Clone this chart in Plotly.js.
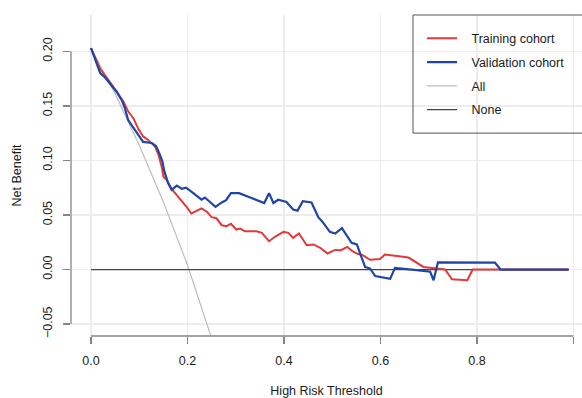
<!DOCTYPE html>
<html>
<head>
<meta charset="utf-8">
<script src="https://cdn.plot.ly/plotly-3.0.1.min.js"></script>
<style>html,body{margin:0;padding:0;overflow:hidden;background:#fff;}</style>
</head>
<body>
<div id="chart" style="width:582px;height:398px;"></div>
<script>
// ---- data ----
const seriesNames = ["Training cohort", "Validation cohort", "All", "None"];

const thresholdsTraining = [0, 0.019, 0.039, 0.057, 0.067, 0.077, 0.088, 0.098, 0.108, 0.119, 0.133, 0.140, 0.147, 0.150, 0.157, 0.167, 0.178, 0.188, 0.198, 0.208, 0.219, 0.229, 0.240, 0.250, 0.260, 0.271, 0.281, 0.290, 0.301, 0.309, 0.319, 0.343, 0.354, 0.369, 0.381, 0.399, 0.409, 0.419, 0.431, 0.447, 0.461, 0.475, 0.490, 0.506, 0.518, 0.531, 0.542, 0.551, 0.564, 0.578, 0.599, 0.609, 0.634, 0.658, 0.689, 0.716, 0.734, 0.748, 0.780, 0.791, 0.99];
const netBenefitTraining = [0.203, 0.184, 0.172, 0.161, 0.154, 0.145, 0.1385, 0.129, 0.122, 0.1186, 0.1125, 0.105, 0.093, 0.085, 0.082, 0.074, 0.068, 0.0636, 0.0575, 0.0514, 0.0538, 0.056, 0.053, 0.048, 0.047, 0.0406, 0.0397, 0.042, 0.0367, 0.0376, 0.035, 0.035, 0.0336, 0.026, 0.030, 0.0345, 0.0336, 0.029, 0.033, 0.0223, 0.023, 0.020, 0.0147, 0.018, 0.0177, 0.0207, 0.0168, 0.0147, 0.013, 0.009, 0.0097, 0.0138, 0.0125, 0.011, 0.0024, 0.0009, 0, -0.0089, -0.0098, 0, 0];

const thresholdsValidation = [0, 0.019, 0.029, 0.043, 0.053, 0.064, 0.070, 0.077, 0.088, 0.098, 0.108, 0.126, 0.135, 0.142, 0.148, 0.152, 0.160, 0.167, 0.178, 0.188, 0.197, 0.212, 0.229, 0.236, 0.247, 0.258, 0.271, 0.280, 0.290, 0.307, 0.330, 0.359, 0.369, 0.378, 0.388, 0.405, 0.419, 0.428, 0.439, 0.457, 0.471, 0.481, 0.495, 0.506, 0.520, 0.540, 0.551, 0.557, 0.568, 0.578, 0.589, 0.620, 0.630, 0.675, 0.703, 0.710, 0.719, 0.837, 0.849, 0.99];
const netBenefitValidation = [0.203, 0.180, 0.176, 0.169, 0.163, 0.155, 0.148, 0.137, 0.130, 0.123, 0.117, 0.116, 0.113, 0.106, 0.099, 0.090, 0.079, 0.073, 0.077, 0.074, 0.075, 0.070, 0.064, 0.066, 0.062, 0.0575, 0.0615, 0.0636, 0.070, 0.070, 0.066, 0.061, 0.070, 0.061, 0.064, 0.062, 0.055, 0.054, 0.0627, 0.0615, 0.048, 0.043, 0.0345, 0.033, 0.038, 0.0244, 0.023, 0.016, 0.0024, 0.001, -0.006, -0.0085, 0.0016, -0.0006, -0.002, -0.0098, 0.0066, 0.0064, 0, 0];

const thresholdsAll = [0, 0.05, 0.10, 0.15, 0.20, 0.25];
const netBenefitAll = [0.203, 0.161, 0.114, 0.062, 0.004, -0.063];

const thresholdsNone = [0, 0.99];
const netBenefitNone = [0, 0];

const xTicks = [0, 0.2, 0.4, 0.6, 0.8, 1.0];
const yTicks = [-0.05, 0, 0.05, 0.10, 0.15, 0.20];

// ---- styling ----
const FONT = "Liberation Sans, Arial, Helvetica, sans-serif";
const pad = "\u00a0\u00a0\u2009";

const traces = [
  {x: thresholdsAll, y: netBenefitAll, name: pad + seriesNames[2], mode: "lines",
   line: {color: "#bdbdbd", width: 1.2}, legendgroup: "c", legendrank: 3},
  {x: thresholdsNone, y: netBenefitNone, name: pad + seriesNames[3], mode: "lines",
   line: {color: "#444444", width: 1.3}, legendgroup: "d", legendrank: 4},
  {x: thresholdsTraining, y: netBenefitTraining, name: pad + seriesNames[0], mode: "lines",
   line: {color: "#e23a3a", width: 2}, legendgroup: "a", legendrank: 1},
  {x: thresholdsValidation, y: netBenefitValidation, name: pad + seriesNames[1], mode: "lines",
   line: {color: "#1f45a6", width: 2.2}, legendgroup: "b", legendrank: 2}
];

const axisCol = "#858585";
const layout = {
  width: 582, height: 398,
  margin: {l: 71, r: 0, t: 15, b: 62.3, pad: 0},
  paper_bgcolor: "#ffffff", plot_bgcolor: "#ffffff",
  font: {family: FONT, size: 12.5, color: "#1a1a1a"},
  showlegend: true,
  legend: {x: 0.687, xanchor: "left", y: 0.973, yanchor: "top",
           bgcolor: "rgba(0,0,0,0)", borderwidth: 0, tracegroupgap: 4.5,
           traceorder: "grouped", font: {family: FONT, size: 12.5, color: "#1a1a1a"}},
  xaxis: {
    range: [-0.0415, 1.0176], tickvals: xTicks, tickformat: ".1f",
    showgrid: true, gridcolor: "#ececec", gridwidth: 1.5, zeroline: false,
    showline: false, ticks: "outside", ticklen: 7, tickwidth: 1.3, tickcolor: axisCol,
    ticklabelstandoff: 6,
    title: {text: "High Risk Threshold", font: {family: FONT, size: 12.5, color: "#1a1a1a"}, standoff: 19},
    automargin: false, fixedrange: true
  },
  yaxis: {
    range: [-0.0609, 0.2333], tickvals: yTicks, tickformat: ".2f", tickangle: -90,
    showgrid: true, gridcolor: "#ececec", gridwidth: 1.5, zeroline: false,
    showline: false, ticks: "outside", ticklen: 7, tickwidth: 1.3, tickcolor: axisCol,
    ticklabelstandoff: 6,
    title: {text: "Net Benefit", font: {family: FONT, size: 12.5, color: "#1a1a1a"}, standoff: 16},
    automargin: false, fixedrange: true
  },
  shapes: [
    {type: "line", xref: "paper", yref: "y", x0: 0, x1: 0, y0: yTicks[0], y1: yTicks[yTicks.length - 1],
     line: {color: axisCol, width: 1.3}},
    {type: "line", xref: "x", yref: "paper", x0: xTicks[0], x1: xTicks[xTicks.length - 1], y0: 0, y1: 0,
     line: {color: axisCol, width: 1.3}},
    {type: "rect", xref: "paper", yref: "paper", x0: 0.6693, x1: 1.05, y0: 0.632, y1: 1.0,
     line: {color: "#555555", width: 1}, fillcolor: "rgba(0,0,0,0)"}
  ]
};

Plotly.newPlot("chart", traces, layout, {displayModeBar: false, staticPlot: true});
</script>
</body>
</html>
